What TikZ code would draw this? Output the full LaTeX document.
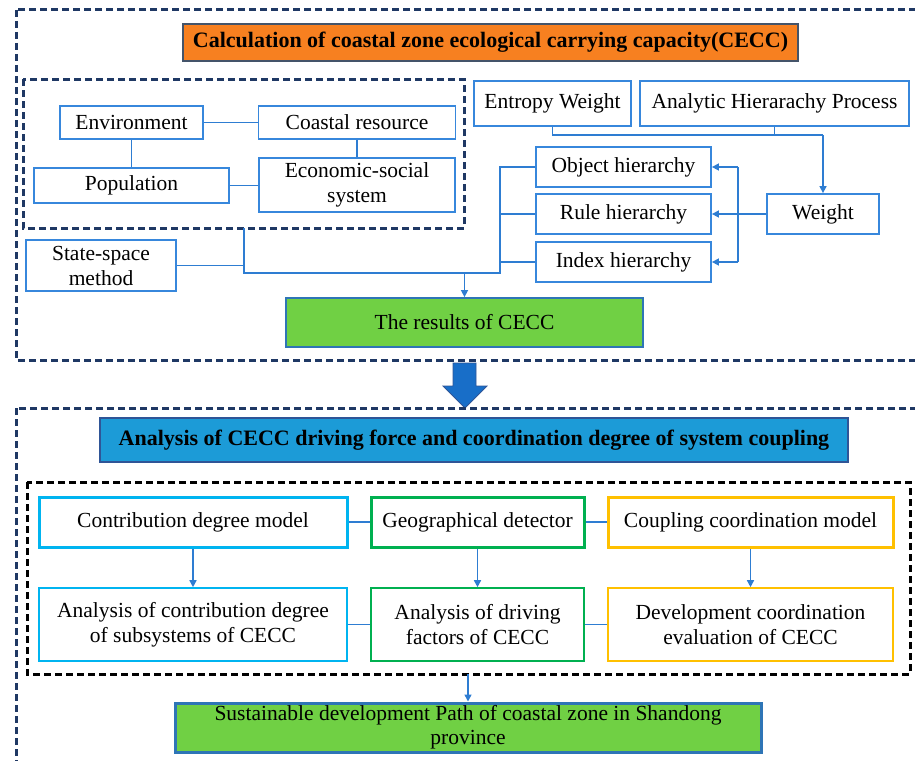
\documentclass[tikz,border=0pt]{standalone}
\usepackage{fontspec}
\setmainfont{Liberation Serif}
\usetikzlibrary{arrows.meta}
\definecolor{navy}{RGB}{31,56,100}
\definecolor{lineblue}{RGB}{46,125,210}
\definecolor{boxblue}{RGB}{55,135,220}
\definecolor{orangefill}{RGB}{247,128,32}
\definecolor{titleborder}{RGB}{68,84,106}
\definecolor{bluefill}{RGB}{28,155,215}
\definecolor{blueborder}{RGB}{47,85,151}
\definecolor{greenfill}{RGB}{112,208,68}
\definecolor{resborder}{RGB}{46,117,182}
\definecolor{cyanb}{RGB}{0,180,240}
\definecolor{greenb}{RGB}{0,176,80}
\definecolor{goldb}{RGB}{255,192,0}
\definecolor{bigarrow}{RGB}{24,110,200}
\tikzset{
  txt/.style={font=\fontsize{21.5}{25}\selectfont, align=center, inner sep=0pt},
  bbox/.style={txt, draw=boxblue, line width=1.8pt, fill=white},
  navydash/.style={draw=navy, line width=3pt, dash pattern=on 7pt off 4pt},
  blackdash/.style={draw=black, line width=3pt, dash pattern=on 7pt off 4pt},
  conn/.style={draw=lineblue, line width=1.5pt},
  arr/.style={conn, -{Triangle[length=7pt,width=7pt]}},
  wh/.style n args={2}{minimum width=#1, minimum height=#2},
}
\begin{document}
\begin{tikzpicture}[x=1pt,y=-1pt]
\useasboundingbox (0,0) rectangle (915,760);
\clip (0,0) rectangle (915,760);
% ---------- top section ----------
\draw[navydash] (16,10) rectangle (930,360);
\node[draw=titleborder, line width=1.2pt, fill=orangefill, txt, wh={615pt}{37pt},
      font=\fontsize{22}{25}\selectfont\bfseries] (title1) at (490.5,42.5)
      {Calculation of coastal zone ecological carrying capacity(CECC)};
\draw[navydash] (23,79) rectangle (464,228);
\coordinate (innerbot) at (244,228);

\node[bbox, wh={143pt}{33pt}] (env) at (131.5,122.5) {Environment};
\node[bbox, wh={197pt}{33pt}] (coast) at (357,122.5) {Coastal resource};
\node[bbox, wh={195pt}{35pt}] (pop) at (131.5,185.5) {Population};
\node[bbox, wh={196pt}{54pt}] (econ) at (357,185) {Economic-social\\system};

\node[bbox, wh={157pt}{45pt}] (entropy) at (552.5,103.5) {Entropy Weight};
\node[bbox, wh={269pt}{45pt}] (ahp) at (774.5,103.5) {Analytic Hierarachy Process};
\node[bbox, wh={175pt}{40pt}] (obj) at (623.5,167) {Object hierarchy};
\node[bbox, wh={175pt}{40pt}] (rule) at (623.5,214) {Rule hierarchy};
\node[bbox, wh={175pt}{40pt}] (index) at (623.5,262) {Index hierarchy};
\node[bbox, wh={112pt}{40pt}] (weight) at (823,214) {Weight};
\node[bbox, wh={150pt}{51pt}] (state) at (101,265.5) {State-space\\method};
\node[txt, draw=resborder, line width=1.8pt, fill=greenfill, wh={357pt}{49pt}] (results) at (464.5,322.5) {The results of CECC};

% connectors top
\draw[conn] (env.east) -- (coast.west);
\draw[conn] (env.south) -- (pop.north);
\draw[conn] (coast.south) -- (econ.north);
\draw[conn] (pop.east) -- (econ.west |- pop.east);
\coordinate (junc) at (244,273);
\coordinate (busb) at (500,273);
\draw[conn] (innerbot) -- (junc) -- (busb) -- (500,167) -- (obj.west);
\draw[conn] (state.east) -- (244,265.5);
\draw[conn] (500,214) -- (rule.west);
\draw[conn] (500,262) -- (index.west);
\draw[arr] (results.north |- junc) -- (results.north);
\coordinate (wtop) at (823,135);
\draw[conn] (entropy.south) -- (entropy.south |- wtop) -- (wtop);
\draw[conn] (ahp.south) -- (ahp.south |- wtop);
\draw[arr] (wtop) -- (weight.north);
\draw[arr] (weight.west) -- (rule.east);
\coordinate (vx) at (738,214);
\draw[arr] (vx |- obj.east) -- (obj.east);
\draw[arr] (vx |- index.east) -- (index.east);
\draw[conn] (vx |- obj.east) -- (vx |- index.east);

% big arrow
\draw[fill=bigarrow, draw=blueborder, line width=0.8pt]
  (453,363) -- (476,363) -- (476,386) -- (487,386) -- (465,408) -- (443,386) -- (453,386) -- cycle;

% ---------- bottom section ----------
\draw[navydash] (16,408) rectangle (930,775);
\node[draw=blueborder, line width=1.2pt, fill=bluefill, txt, wh={748pt}{44pt},
      font=\fontsize{22}{25}\selectfont\bfseries] (title2) at (474,440)
      {Analysis of CECC driving force and coordination degree of system coupling};
\draw[blackdash] (27,482) rectangle (910,674);

\node[txt, draw=cyanb, line width=3pt, fill=white, wh={308pt}{50pt}] (contrib) at (193,522) {Contribution degree model};
\node[txt, draw=greenb, line width=3pt, fill=white, wh={213pt}{50pt}] (geo) at (477.5,522) {Geographical detector};
\node[txt, draw=goldb, line width=3pt, fill=white, wh={285pt}{50pt}] (coup) at (750.5,522) {Coupling coordination model};
\node[txt, draw=cyanb, line width=1.6pt, fill=white, wh={308pt}{73pt}] (acd) at (193,624.5) {Analysis of contribution degree\\of subsystems of CECC};
\node[txt, draw=greenb, line width=1.6pt, fill=white, wh={213pt}{73pt}] (adf) at (477.5,624.5) {Analysis of driving\\factors of CECC};
\node[txt, draw=goldb, line width=1.6pt, fill=white, wh={285pt}{73pt}] (dce) at (750.5,624.5) {Development coordination\\evaluation of CECC};
\node[txt, draw=resborder, line width=3pt, fill=greenfill, wh={586pt}{49pt},
      font=\fontsize{21.5}{24}\selectfont] (final) at (468,727.5)
      {Sustainable development Path of coastal zone in Shandong\\province};

\draw[conn] (contrib.east) -- (geo.west);
\draw[conn] (geo.east) -- (coup.west);
\draw[conn] (acd.east) -- (adf.west);
\draw[conn] (adf.east) -- (dce.west);
\draw[arr] (contrib.south) -- (acd.north);
\draw[arr] (geo.south) -- (adf.north);
\draw[arr] (coup.south) -- (dce.north);
\coordinate (bdbot) at (468,674);
\draw[arr] (bdbot) -- (final.north);
\end{tikzpicture}
\end{document}
